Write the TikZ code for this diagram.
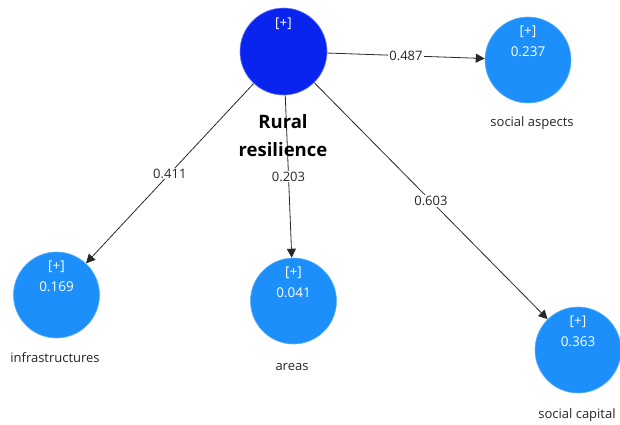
\documentclass[tikz,border=0pt]{standalone}
\usepackage{fontspec}
\setmainfont{Open Sans}
\usetikzlibrary{arrows.meta}
\definecolor{mainblue}{RGB}{10,36,240}
\definecolor{lightblue}{RGB}{28,143,250}
\definecolor{edgegray}{RGB}{40,40,40}
\tikzset{
  bigc/.style={circle, fill=mainblue, draw=mainblue!60!white, line width=0.6pt, minimum size=87pt, inner sep=0pt},
  smallc/.style={circle, fill=lightblue, draw=lightblue!70!white, line width=0.6pt, minimum size=86pt, inner sep=0pt},
  intext/.style={text=white, font=\fontsize{13.5}{15}\selectfont, inner sep=0pt},
  outlabel/.style={text=black!85, font=\fontsize{13}{15}\selectfont, inner sep=0pt},
  elabel/.style={fill=white, text=black!85, font=\fontsize{13}{15}\selectfont, inner sep=1pt},
  conn/.style={draw=edgegray, line width=0.8pt, -{Triangle[length=9pt,width=9pt]}}
}
\begin{document}
\begin{tikzpicture}[x=1pt,y=-1pt]
\useasboundingbox (0,0) rectangle (620,424);
% nodes
\node[bigc] (rr) at (283.5,51.5) {};
\node[smallc] (sa) at (528,60) {};
\node[smallc] (inf) at (56.5,295) {};
\node[smallc] (ar) at (293.5,301) {};
\node[smallc] (sc) at (578,350) {};
% connectors
\draw[conn] (rr) -- (sa) node[elabel, pos=0.5] (l1) {0.487};
\draw[conn] (rr) -- (inf) node[elabel, pos=0.5] (l2) {0.411};
\draw[conn] (rr) -- (ar) node[elabel, pos=0.5] (l3) {0.203};
\draw[conn] (rr) -- (sc) node[elabel, pos=0.5] (l4) {0.603};
% inner texts
\node[intext] (rrp) at (283.5,24) {[+]};
\node[intext] (sap) at (528,32) {[+]};
\node[intext] (sav) at (528,52) {0.237};
\node[intext] (infp) at (56.5,267) {[+]};
\node[intext] (infv) at (56.5,287) {0.169};
\node[intext] (arp) at (293.5,273) {[+]};
\node[intext] (arv) at (293.5,293) {0.041};
\node[intext] (scp) at (578,322) {[+]};
\node[intext] (scv) at (578,342) {0.363};
% outer labels
\node[font=\bfseries\fontsize{18.5}{28}\selectfont, align=center, text=black, inner sep=0pt] (rrl) at (283,136) {Rural\\resilience};
\node[outlabel] (sal) at (532,123) {social aspects};
\node[outlabel] (infl) at (55,358) {infrastructures};
\node[outlabel] (arl) at (292,367) {areas};
\node[outlabel] (scl) at (577,415) {social capital};
\end{tikzpicture}
\end{document}
